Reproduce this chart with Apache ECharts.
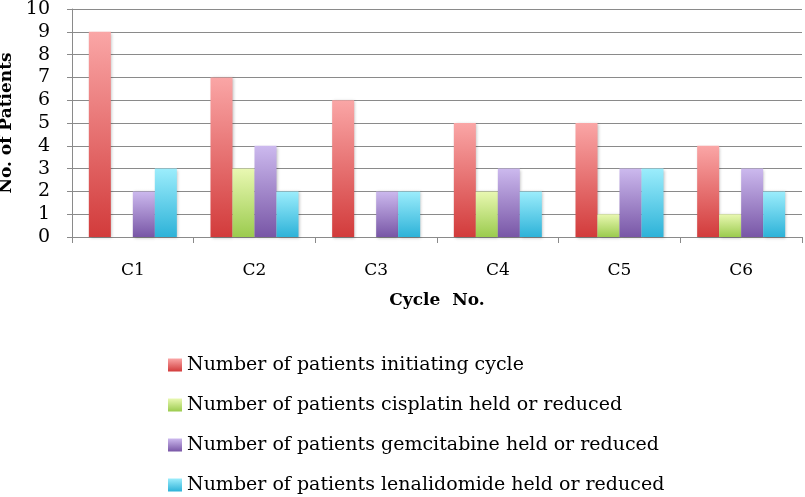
<!DOCTYPE html>
<html>
<head>
<meta charset="utf-8">
<script src="https://cdn.jsdelivr.net/npm/echarts@6/dist/echarts.min.js"></script>
<style>html,body{margin:0;padding:0;background:#fff;}#c{width:805px;height:497px;}</style>
</head>
<body>
<div id="c"></div>
<script>
var categories = ['C1', 'C2', 'C3', 'C4', 'C5', 'C6'];
var seriesNames = [
  'Number of patients initiating cycle',
  'Number of patients cisplatin held or reduced',
  'Number of patients gemcitabine held or reduced',
  'Number of patients lenalidomide held or reduced'
];
var initiating = [9, 7, 6, 5, 5, 4];
var cisplatin = [0, 3, 0, 2, 1, 1];
var gemcitabine = [2, 4, 2, 3, 3, 3];
var lenalidomide = [3, 2, 2, 2, 3, 2];
var yTicks = [0, 1, 2, 3, 4, 5, 6, 7, 8, 9, 10];

var gradients = [
  ['#faa6a6', '#d23b3b'],
  ['#e9f8b2', '#9bcb4e'],
  ['#ccb9ee', '#7856a6'],
  ['#9cedfc', '#2db2d8']
];
function grad(i) {
  return new echarts.graphic.LinearGradient(0, 0, 0, 1, [
    { offset: 0, color: gradients[i][0] },
    { offset: 1, color: gradients[i][1] }
  ]);
}
var font = 'DejaVu Serif';
var dataSets = [initiating, cisplatin, gemcitabine, lenalidomide];
var series = dataSets.map(function (d, i) {
  return {
    name: seriesNames[i],
    type: 'bar',
    data: d,
    barWidth: 22,
    barGap: '0%',
    itemStyle: {
      color: grad(i),
      shadowBlur: 3,
      shadowOffsetX: 1,
      shadowOffsetY: 1,
      shadowColor: 'rgba(0,0,0,0.25)'
    }
  };
});

var chart = echarts.init(document.getElementById('c'), null, { renderer: 'canvas' });
chart.setOption({
  animation: false,
  backgroundColor: '#ffffff',
  grid: { left: 72, right: 3, top: 9, bottom: 260, containLabel: false, outerBoundsMode: 'none' },
  legend: {
    orient: 'vertical',
    left: 168,
    top: 355,
    height: 142,
    padding: 0,
    itemWidth: 14,
    itemHeight: 13,
    itemGap: 20,
    icon: 'rect',
    data: seriesNames,
    textStyle: { fontFamily: font, fontSize: 19, color: '#000', lineHeight: 20 }
  },
  xAxis: {
    type: 'category',
    data: categories,
    name: 'Cycle  No.',
    nameLocation: 'middle',
    nameGap: 55,
    nameTextStyle: { fontFamily: font, fontSize: 17, fontWeight: 'bold', color: '#000' },
    axisLine: { lineStyle: { color: '#8a8a8a', width: 1 } },
    axisTick: { show: true, length: 6, lineStyle: { color: '#8a8a8a' } },
    axisLabel: { fontFamily: font, fontSize: 17, color: '#000', margin: 25 }
  },
  yAxis: {
    type: 'value',
    min: yTicks[0],
    max: yTicks[yTicks.length - 1],
    interval: 1,
    name: 'No. of Patients',
    nameLocation: 'middle',
    nameGap: 54,
    nameRotate: 90,
    nameTextStyle: { fontFamily: font, fontSize: 17, fontWeight: 'bold', color: '#000' },
    axisLine: { show: true, lineStyle: { color: '#8a8a8a', width: 1 } },
    axisTick: { show: true, length: 5, lineStyle: { color: '#8a8a8a' } },
    splitLine: { show: true, lineStyle: { color: '#8a8a8a', width: 1 } },
    axisLabel: { fontFamily: font, fontSize: 19, color: '#000', margin: 22 }
  },
  series: series
});
</script>
</body>
</html>
